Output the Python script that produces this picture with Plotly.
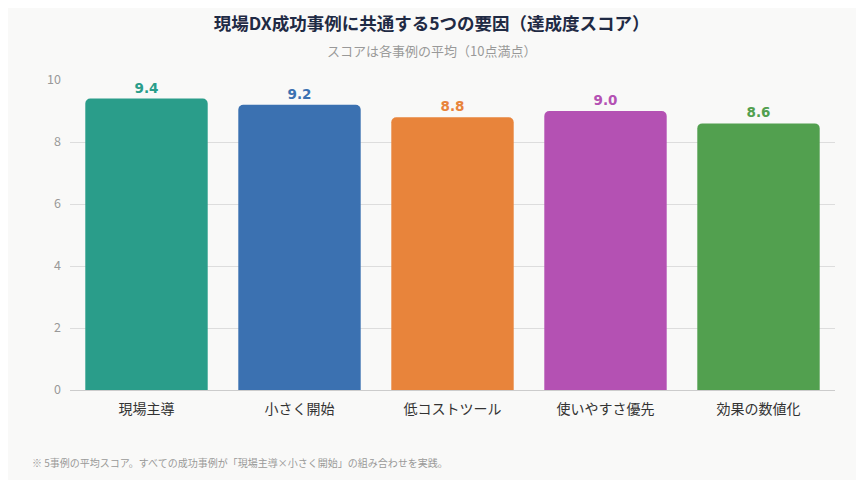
import plotly.graph_objects as go

categories = ["現場主導", "小さく開始", "低コストツール", "使いやすさ優先", "効果の数値化"]
scores = [9.4, 9.2, 8.8, 9.0, 8.6]
colors = ["#2a9d8a", "#3b71b1", "#e8843b", "#b451b3", "#52a04f"]
y_ticks = [0, 2, 4, 6, 8, 10]

title_text = "現場DX成功事例に共通する5つの要因（達成度スコア）"
subtitle_text = "スコアは各事例の平均（10点満点）"
note_text = "※ 5事例の平均スコア。すべての成功事例が「現場主導×小さく開始」の組み合わせを実践。"

font_family = "Noto Sans CJK JP, Noto Sans, sans-serif"

fig = go.Figure()
fig.add_trace(
    go.Bar(
        x=categories,
        y=scores,
        marker=dict(color=colors, line=dict(width=0)),
        texttemplate="<b>%{y:.1f}</b>",
        textposition="outside",
        textfont=dict(color=colors, size=13.5, family="DejaVu Sans, sans-serif"),
        cliponaxis=False,
        hoverinfo="skip",
    )
)

# the page body adds an 8px margin, so the figure is a bit smaller than the window
fig.update_layout(
    width=856,
    height=472,
    paper_bgcolor="#f9f9f8",
    plot_bgcolor="#f9f9f8",
    font=dict(family=font_family, color="#333"),
    margin=dict(l=62, r=29, t=72, b=90),
    bargap=0.2,
    barcornerradius=5,
    showlegend=False,
    title=dict(
        text=f"<b>{title_text}</b>",
        xref="container",
        x=0.495,
        xanchor="center",
        y=0.966,
        yanchor="middle",
        font=dict(size=17.5, color="#1f2a44"),
    ),
    annotations=[
        dict(
            text=subtitle_text,
            xref="paper",
            yref="paper",
            x=0.473,
            y=1.0,
            yshift=30,
            xanchor="center",
            yanchor="middle",
            showarrow=False,
            font=dict(size=13, color="#999"),
        ),
        dict(
            text=note_text,
            xref="paper",
            yref="paper",
            x=0,
            xshift=-40,
            y=0,
            yshift=-72,
            xanchor="left",
            yanchor="middle",
            showarrow=False,
            font=dict(size=10, color="#999"),
        ),
    ],
)

fig.update_xaxes(
    showgrid=False,
    showline=True,
    linecolor="#cccccc",
    linewidth=1,
    ticks="",
    ticklabelstandoff=6,
    tickfont=dict(size=14, color="#333"),
)
fig.update_yaxes(
    range=[0, 10],
    tickvals=y_ticks,
    showgrid=True,
    gridcolor="#dddddd",
    gridwidth=1,
    zeroline=False,
    showline=False,
    ticks="",
    ticklen=0,
    ticklabelstandoff=8,
    tickfont=dict(size=12.5, color="#999"),
)

fig.write_html("out.html")
